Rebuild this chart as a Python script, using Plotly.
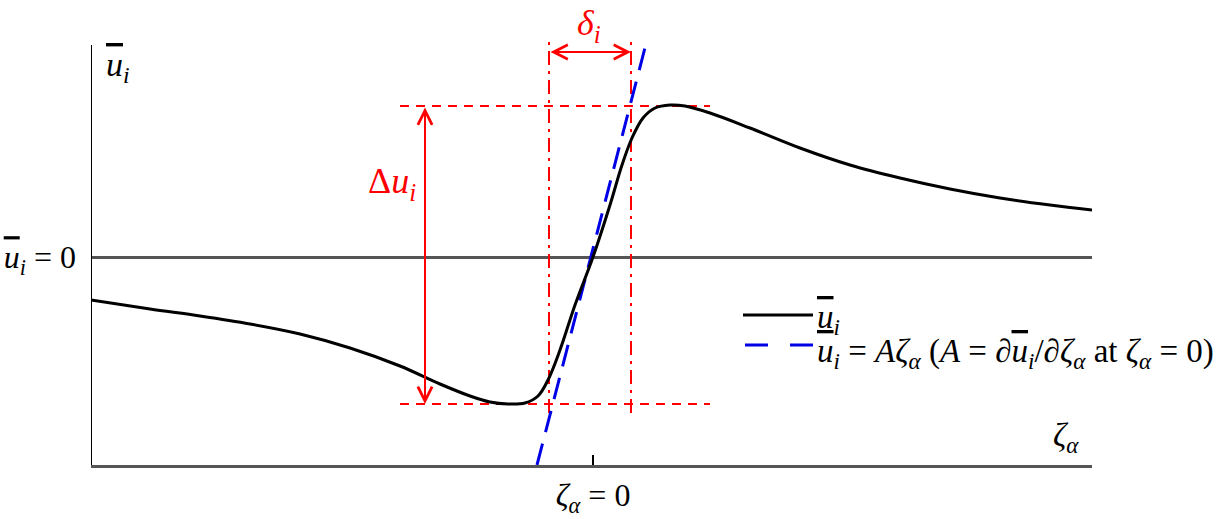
import plotly.graph_objects as go

# Mean velocity profile across the layer (zeta_alpha, u_i)
zeta = [-5.02, -4.43, -3.93, -3.43, -2.93, -2.43, -1.93, -1.53, -1.23, -1.03,
        -0.85, -0.68, -0.55, -0.45, -0.33, -0.18, 0.0, 0.17, 0.29, 0.39,
        0.50, 0.62, 0.77, 0.92, 1.17, 1.57, 2.07, 2.57, 3.07, 3.57,
        4.07, 4.57, 4.99]
u_mean = [-0.43, -0.52, -0.59, -0.67, -0.77, -0.91, -1.09, -1.27, -1.39, -1.45,
          -1.47, -1.46, -1.39, -1.23, -0.93, -0.48, 0.0, 0.52, 0.92, 1.19,
          1.39, 1.49, 1.52, 1.51, 1.44, 1.29, 1.09, 0.92, 0.79, 0.68,
          0.59, 0.52, 0.47]

# Tangent at zeta = 0
tangent_x = [-0.56, 0.54]
tangent_y = [-2.08, 2.17]

# Extent markers
du_top = 1.51
du_bottom = -1.47
du_x_span = [-1.93, 1.17]
du_arrow_x = -1.68
delta_left = -0.44
delta_right = 0.38
delta_y_span = [-1.56, 2.15]
delta_arrow_y = 2.05

x_range = [-5.02, 4.99]
y_range = [-2.08, 2.57]
y_axis_top = 2.12

RED = "rgb(255,0,0)"
BLUE = "rgb(0,0,230)"
FONT = "Liberation Serif, Times New Roman, serif"
OL = '<span style="text-decoration:overline"><i>u</i></span><sub><i>i</i></sub>'
ZA = "<i>ζ</i><sub><i>α</i></sub>"

fig = go.Figure()

# red dashed horizontal guides
for yv in [du_top, du_bottom]:
    fig.add_trace(go.Scatter(x=du_x_span, y=[yv, yv], mode="lines",
                             line=dict(color=RED, width=2, dash="9px,7px"),
                             hoverinfo="skip"))
# red dash-dot vertical guides
for xv in [delta_left, delta_right]:
    fig.add_trace(go.Scatter(x=[xv, xv], y=delta_y_span, mode="lines",
                             line=dict(color=RED, width=2, dash="14px,6px,3px,6px"),
                             hoverinfo="skip"))

# tangent line
fig.add_trace(go.Scatter(x=tangent_x, y=tangent_y, mode="lines",
                         line=dict(color=BLUE, width=3, dash="22px,12px"),
                         hoverinfo="skip"))
# profile
fig.add_trace(go.Scatter(x=zeta, y=u_mean, mode="lines",
                         line=dict(color="black", width=3, shape="spline"),
                         hoverinfo="skip"))

# vertical axis line
fig.add_shape(type="line", x0=x_range[0], x1=x_range[0], y0=y_range[0], y1=y_axis_top,
              xref="x", yref="y", line=dict(color="black", width=2))

# arrows
fig.add_annotation(x=du_arrow_x, y=du_bottom, ax=du_arrow_x, ay=du_top,
                   xref="x", yref="y", axref="x", ayref="y", text="",
                   showarrow=True, arrowhead=5, startarrowhead=5, arrowside="end+start",
                   arrowsize=1.4, startarrowsize=1.4, arrowwidth=2, arrowcolor=RED)
fig.add_annotation(x=delta_right, y=delta_arrow_y, ax=delta_left, ay=delta_arrow_y,
                   xref="x", yref="y", axref="x", ayref="y", text="",
                   showarrow=True, arrowhead=5, startarrowhead=5, arrowside="end+start",
                   arrowsize=1.4, startarrowsize=1.4, arrowwidth=2, arrowcolor=RED)

# labels
fig.add_annotation(x=-2.01, y=0.74, text="Δ<i>u</i><sub><i>i</i></sub>", showarrow=False,
                   font=dict(family=FONT, size=36, color=RED))
fig.add_annotation(x=-0.04, y=2.32, text="<i>δ</i><sub><i>i</i></sub>", showarrow=False,
                   font=dict(family=FONT, size=36, color=RED))
fig.add_annotation(x=-4.75, y=1.9, text=OL, showarrow=False,
                   font=dict(family=FONT, size=34, color="black"))
fig.add_annotation(x=4.73, y=-1.80, text=ZA, showarrow=False,
                   font=dict(family=FONT, size=33, color="black"))

# manual legend (paper coords)
def px_x(p):
    return (p - 91) / 1001


def px_y(p):
    return (465 - p) / 465


fig.add_shape(type="line", xref="paper", yref="paper", x0=px_x(743), x1=px_x(813),
              y0=px_y(315), y1=px_y(315), line=dict(color="black", width=3))
fig.add_shape(type="line", xref="paper", yref="paper", x0=px_x(745), x1=px_x(813),
              y0=px_y(345), y1=px_y(345),
              line=dict(color=BLUE, width=3, dash="23px,22px"))
fig.add_annotation(xref="paper", yref="paper", x=px_x(815), y=px_y(319), xanchor="left",
                   yanchor="middle", text=OL, showarrow=False,
                   font=dict(family=FONT, size=33, color="black"))
fig.add_annotation(xref="paper", yref="paper", x=px_x(815), y=px_y(353), xanchor="left",
                   yanchor="middle",
                   text=OL + " = <i>Aζ</i><sub><i>α</i></sub> (<i>A</i> = ∂" + OL + "/∂" + ZA
                   + " at " + ZA + " = 0)",
                   showarrow=False, font=dict(family=FONT, size=33, color="black"))

fig.update_layout(
    width=1230, height=519,
    showlegend=False,
    plot_bgcolor="white", paper_bgcolor="white",
    margin=dict(l=91, r=138, t=0, b=54),
    font=dict(family=FONT, size=32, color="black"),
)
fig.update_xaxes(range=x_range, showgrid=False, zeroline=False,
                 showline=True, linecolor="rgb(85,85,85)", linewidth=3,
                 ticks="inside", ticklen=10, tickwidth=2, tickcolor="black",
                 tickvals=[0], ticktext=[ZA + " = 0"])
fig.update_yaxes(range=y_range, showgrid=False, zeroline=True,
                 zerolinecolor="rgb(85,85,85)", zerolinewidth=3,
                 showline=False, ticks="", tickvals=[0], ticktext=[OL + " = 0"],
                 ticklabelstandoff=14)

fig.write_html("out.html", config={"displayModeBar": False},
               post_script="document.body.style.margin='0';")
